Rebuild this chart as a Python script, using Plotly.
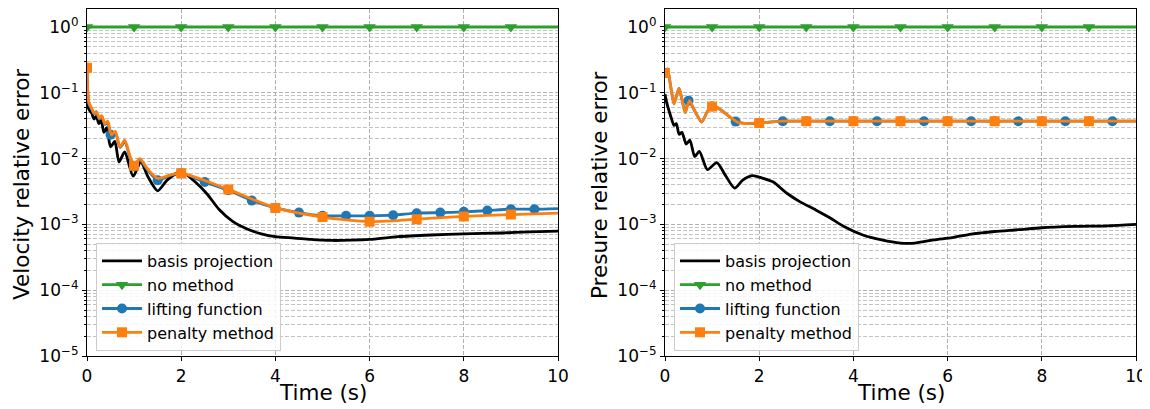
import plotly.graph_objects as go

# ---------------- data: velocity (left panel) ----------------
vel_basis_t = [0, 0.04, 0.1, 0.15, 0.2, 0.25, 0.3, 0.36, 0.42, 0.5, 0.59, 0.68, 0.8, 0.98,
               1.14, 1.3, 1.5, 1.7, 1.95, 2.1, 2.3, 2.55, 2.8, 3.1, 3.4, 3.7, 4.0, 4.4,
               4.75, 5.2, 5.6, 6.0, 6.6, 7.3, 8.0, 8.8, 9.4, 10]
vel_basis = [0.075, 0.056, 0.049, 0.040, 0.044, 0.034, 0.038, 0.025, 0.0295, 0.0151, 0.0182,
             0.0089, 0.0126, 0.0054, 0.0089, 0.0052, 0.00324, 0.0047, 0.0062, 0.0058, 0.0044,
             0.0029, 0.0017, 0.0011, 0.00085, 0.00072, 0.00065, 0.00062, 0.00059, 0.00057,
             0.000575, 0.00059, 0.00065, 0.00069, 0.00072, 0.00074, 0.00077, 0.00079]

vel_lift_t = [0, 0.04, 0.1, 0.15, 0.2, 0.26, 0.31, 0.38, 0.44, 0.5, 0.6, 0.7, 0.8, 0.92,
              1.0, 1.12, 1.3, 1.5, 1.75, 2.0, 2.5, 3.0, 3.5, 4.0, 4.5, 5.0, 5.5, 6.0, 6.5,
              7.0, 7.5, 8.0, 8.5, 9.0, 9.5, 10]
vel_lift = [0.24, 0.068, 0.056, 0.048, 0.051, 0.040, 0.044, 0.033, 0.0355, 0.023, 0.025,
            0.0148, 0.018, 0.010, 0.0076, 0.0095, 0.0065, 0.0047, 0.0055, 0.0060, 0.0044,
            0.0033, 0.0023, 0.00178, 0.00151, 0.00135, 0.00135, 0.00135, 0.00138, 0.00148,
            0.00151, 0.00155, 0.00162, 0.0017, 0.0017, 0.00174]

vel_pen_t = [0, 0.04, 0.1, 0.15, 0.2, 0.26, 0.31, 0.38, 0.44, 0.52, 0.6, 0.7, 0.8, 0.92,
             1.0, 1.12, 1.3, 1.5, 1.75, 2.0, 3.0, 4.0, 5.0, 5.5, 6.0, 6.5, 7.0, 8.0, 9.0, 10]
vel_pen = [0.24, 0.071, 0.058, 0.049, 0.052, 0.041, 0.045, 0.034, 0.037, 0.023, 0.026,
           0.0151, 0.019, 0.0105, 0.0078, 0.010, 0.0068, 0.0050, 0.0056, 0.0060, 0.0034,
           0.00178, 0.00129, 0.00117, 0.0011, 0.00113, 0.0012, 0.00132, 0.00141, 0.00148]

# ---------------- data: pressure (right panel) ----------------
pre_basis_t = [0, 0.04, 0.09, 0.14, 0.19, 0.24, 0.3, 0.36, 0.45, 0.53, 0.63, 0.73, 0.9, 1.1,
               1.28, 1.48, 1.65, 1.85, 2.05, 2.3, 2.58, 2.87, 3.2, 3.5, 3.8, 4.2, 4.6, 5.0,
               5.3, 5.7, 6.1, 6.5, 7.0, 7.5, 8.0, 8.7, 9.4, 10]
pre_basis = [0.095, 0.069, 0.052, 0.040, 0.032, 0.034, 0.0234, 0.025, 0.0166, 0.019, 0.0107,
             0.0129, 0.0068, 0.0087, 0.0056, 0.00355, 0.0047, 0.0055, 0.0051, 0.0044, 0.0030,
             0.0022, 0.00166, 0.00126, 0.00093, 0.00069, 0.00058, 0.00052, 0.00052, 0.00058,
             0.00063, 0.00071, 0.00078, 0.00083, 0.00089, 0.00093, 0.00095, 0.00100]

pre_lift_t = [0, 0.05, 0.12, 0.19, 0.25, 0.3, 0.36, 0.43, 0.5, 0.65, 0.78, 0.9, 1.0, 1.12,
              1.34, 1.5, 1.78, 2.0, 2.5, 3.0, 3.5, 4.0, 4.5, 5.0, 5.5, 6.0, 6.5, 7.0, 7.5,
              8.0, 8.5, 9.0, 9.5, 10]
pre_lift = [0.20, 0.23, 0.126, 0.068, 0.093, 0.117, 0.079, 0.050, 0.076, 0.050, 0.036, 0.052,
            0.062, 0.059, 0.045, 0.0365, 0.034, 0.0347, 0.037, 0.037, 0.037, 0.037, 0.037,
            0.037, 0.037, 0.037, 0.037, 0.037, 0.037, 0.037, 0.037, 0.037, 0.037, 0.037]

pre_pen_t = [0, 0.05, 0.12, 0.19, 0.25, 0.3, 0.36, 0.43, 0.52, 0.65, 0.78, 0.9, 1.0, 1.12,
             1.34, 1.55, 1.78, 2.0, 2.5, 3.0, 4.0, 5.0, 6.0, 7.0, 8.0, 9.0, 10]
pre_pen = [0.20, 0.23, 0.126, 0.068, 0.093, 0.117, 0.079, 0.050, 0.076, 0.050, 0.036, 0.052,
           0.062, 0.059, 0.045, 0.0355, 0.034, 0.0347, 0.037, 0.037, 0.037, 0.037, 0.037,
           0.037, 0.037, 0.037, 0.037]

# ---------------- data: no method (both panels) ----------------
nomethod_t = [0, 1, 2, 3, 4, 5, 6, 7, 8, 9, 10]
nomethod = [1.0, 1.0, 1.0, 1.0, 1.0, 1.0, 1.0, 1.0, 1.0, 1.0, 1.0]

# marker spacing (matplotlib markevery-like) and labels
mark_step_nomethod = 1.0
mark_step_lift = 0.5
mark_step_pen = 1.0
series_names = ["basis projection", "no method", "lifting function", "penalty method"]
y_titles = ["Velocity relative error", "Presure relative error"]
x_title = "Time (s)"
y_tick_vals = [1e-5, 1e-4, 1e-3, 1e-2, 1e-1, 1]
y_tick_text = ["10<sup>\u22125</sup>", "10<sup>\u22124</sup>", "10<sup>\u22123</sup>",
               "10<sup>\u22122</sup>", "10<sup>\u22121</sup>", "10<sup>0</sup>"]
x_tick_vals = [0, 2, 4, 6, 8, 10]

# ---------------- styles ----------------
FONT = "DejaVu Sans"
C_BLACK = "#000000"
C_GREEN = "#2ca02c"
C_BLUE = "#1f77b4"
C_ORANGE = "#ff7f0e"
LW = 2.8


def marks(t, v, step):
    mt, mv = [], []
    for ti, vi in zip(t, v):
        k = ti / step
        if abs(k - round(k)) < 1e-9 and ti < 10 - 1e-9:
            mt.append(ti)
            mv.append(vi)
    return mt, mv


fig = go.Figure()


def add_panel(xa, ya, basis_t, basis, lift_t, lift, pen_t, pen):
    fig.add_trace(go.Scatter(x=basis_t, y=basis, mode="lines", xaxis=xa, yaxis=ya,
                             line=dict(color=C_BLACK, width=LW, shape="spline", smoothing=0.7),
                             showlegend=False, hoverinfo="skip"))
    fig.add_trace(go.Scatter(x=nomethod_t, y=nomethod, mode="lines", xaxis=xa, yaxis=ya,
                             line=dict(color=C_GREEN, width=LW), showlegend=False))
    mt, mv = marks(nomethod_t, nomethod, mark_step_nomethod)
    fig.add_trace(go.Scatter(x=mt, y=mv, mode="markers", xaxis=xa, yaxis=ya,
                             marker=dict(symbol="triangle-down", size=11, color=C_GREEN),
                             showlegend=False))
    fig.add_trace(go.Scatter(x=lift_t, y=lift, mode="lines", xaxis=xa, yaxis=ya,
                             line=dict(color=C_BLUE, width=LW, shape="spline", smoothing=0.7),
                             showlegend=False))
    mt, mv = marks(lift_t, lift, mark_step_lift)
    fig.add_trace(go.Scatter(x=mt, y=mv, mode="markers", xaxis=xa, yaxis=ya,
                             marker=dict(symbol="circle", size=10, color=C_BLUE),
                             showlegend=False))
    fig.add_trace(go.Scatter(x=pen_t, y=pen, mode="lines", xaxis=xa, yaxis=ya,
                             line=dict(color=C_ORANGE, width=LW, shape="spline", smoothing=0.7),
                             showlegend=False))
    mt, mv = marks(pen_t, pen, mark_step_pen)
    fig.add_trace(go.Scatter(x=mt, y=mv, mode="markers", xaxis=xa, yaxis=ya,
                             marker=dict(symbol="square", size=10, color=C_ORANGE),
                             showlegend=False))


add_panel("x", "y", vel_basis_t, vel_basis, vel_lift_t, vel_lift, vel_pen_t, vel_pen)
add_panel("x2", "y2", pre_basis_t, pre_basis, pre_lift_t, pre_lift, pre_pen_t, pre_pen)

leg_styles = [
    dict(mode="lines", line=dict(color=C_BLACK, width=LW)),
    dict(mode="lines+markers", line=dict(color=C_GREEN, width=LW),
         marker=dict(symbol="triangle-down", size=11, color=C_GREEN)),
    dict(mode="lines+markers", line=dict(color=C_BLUE, width=LW),
         marker=dict(symbol="circle", size=10, color=C_BLUE)),
    dict(mode="lines+markers", line=dict(color=C_ORANGE, width=LW),
         marker=dict(symbol="square", size=10, color=C_ORANGE)),
]
for legname, xa, ya in [("legend", "x", "y"), ("legend2", "x2", "y2")]:
    for name, st in zip(series_names, leg_styles):
        fig.add_trace(go.Scatter(x=[None], y=[None], name=name, xaxis=xa, yaxis=ya,
                                 legend=legname, showlegend=True, **st))

# page has an 8px body margin: figure coordinates = reference pixels - 8
W, H = 1142, 401
L1, R1 = 79, 550
L2, R2 = 657, 1128
TOP, BOT = 0.5, 348
ydom = [1 - BOT / H, 1 - TOP / H]
Y_TOP = 0.281  # log10 of the top of the y range

minor_vals = [m * 10.0 ** e for e in range(-5, 1) for m in range(2, 10)]

grid_major = "#b0b0b0"
grid_minor = "#c4c4c4"


def xaxis_cfg(l, r, anchor):
    return dict(domain=[l / W, r / W], range=[0, 10], anchor=anchor, automargin=False,
                tickvals=x_tick_vals, ticks="outside", ticklen=4, tickwidth=1, tickcolor="black",
                showline=True, linecolor="black", linewidth=1.2, mirror=True,
                showgrid=True, gridcolor=grid_major, griddash="4px,2px", gridwidth=1,
                zeroline=False, tickfont=dict(family=FONT, size=17, color="black"))


def yaxis_cfg(anchor):
    return dict(domain=ydom, type="log", range=[-5, Y_TOP], anchor=anchor, automargin=False,
                tickvals=y_tick_vals, ticktext=y_tick_text,
                ticks="outside", ticklen=4, tickwidth=1, tickcolor="black",
                showline=True, linecolor="black", linewidth=1.2, mirror=True,
                showgrid=True, gridcolor=grid_major, griddash="4px,2px", gridwidth=1,
                minor=dict(tickmode="array", tickvals=minor_vals, ticks="outside", ticklen=2,
                           tickcolor="black", showgrid=True, gridcolor=grid_minor,
                           griddash="4px,2px", gridwidth=0.8),
                zeroline=False, tickfont=dict(family=FONT, size=17, color="black"))


leg_common = dict(bgcolor="rgba(255,255,255,0.85)", bordercolor="#cccccc", borderwidth=1,
                  font=dict(family=FONT, size=16, color="black"),
                  xanchor="left", yanchor="bottom", itemwidth=40, tracegroupgap=0)

fig.update_layout(
    template="none",
    width=W, height=H, autosize=False,
    margin=dict(l=0, r=0, t=0, b=0, pad=0),
    paper_bgcolor="white", plot_bgcolor="white",
    font=dict(family=FONT, color="black"),
    xaxis=xaxis_cfg(L1, R1, "y"),
    yaxis=yaxis_cfg("x"),
    xaxis2=xaxis_cfg(L2, R2, "y2"),
    yaxis2=yaxis_cfg("x2"),
    legend=dict(x=88 / W, y=1 - 343 / H, **leg_common),
    legend2=dict(x=666 / W, y=1 - 343 / H, **leg_common),
)

annots = [
    dict(text=x_title, x=(L1 + R1) / 2 / W, y=1 - 384 / H),
    dict(text=x_title, x=(L2 + R2) / 2 / W, y=1 - 384 / H),
    dict(text=y_titles[0], x=14 / W, y=1 - 177 / H, textangle=-90),
    dict(text=y_titles[1], x=592 / W, y=1 - 177 / H, textangle=-90),
]
for a in annots:
    fig.add_annotation(xref="paper", yref="paper", showarrow=False,
                       xanchor="center", yanchor="middle",
                       font=dict(family=FONT, size=21.5, color="black"), **a)

fig.write_html("out.html")
